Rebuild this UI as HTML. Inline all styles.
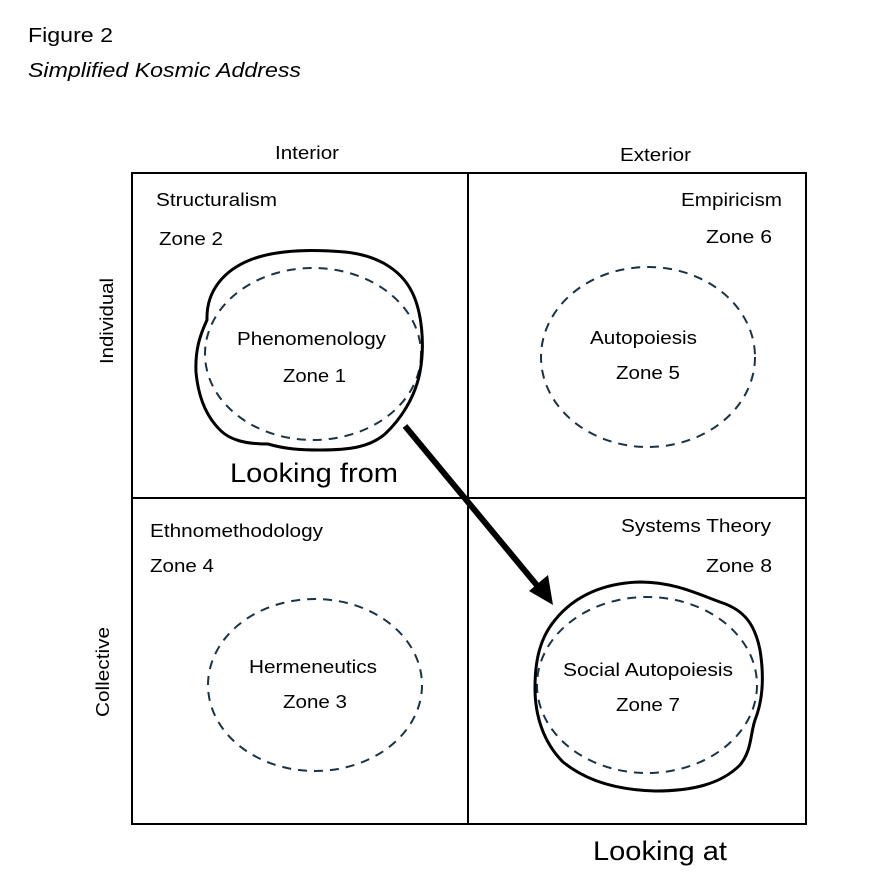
<!DOCTYPE html>
<html><head><meta charset="utf-8"><style>
html,body{margin:0;padding:0;background:#fff;}
svg{display:block;}
text{font-family:"Liberation Sans",Arial,sans-serif;fill:#000;}
</style></head><body>
<svg width="886" height="881" viewBox="0 0 886 881" xmlns="http://www.w3.org/2000/svg">
<text lengthAdjust="spacingAndGlyphs" x="28" y="42" font-size="20" textLength="85">Figure 2</text>
<text lengthAdjust="spacingAndGlyphs" x="28" y="77" font-size="20" font-style="italic" textLength="273">Simplified Kosmic Address</text>
<text lengthAdjust="spacingAndGlyphs" x="275" y="159" font-size="18" textLength="64">Interior</text>
<text lengthAdjust="spacingAndGlyphs" x="620" y="161" font-size="18" textLength="71">Exterior</text>
<text lengthAdjust="spacingAndGlyphs" transform="translate(113,364) rotate(-90)" font-size="18" textLength="86">Individual</text>
<text lengthAdjust="spacingAndGlyphs" transform="translate(109,717) rotate(-90)" font-size="18" textLength="90">Collective</text>

<text lengthAdjust="spacingAndGlyphs" x="156" y="206" font-size="18" textLength="121">Structuralism</text>
<text lengthAdjust="spacingAndGlyphs" x="159" y="245" font-size="18" textLength="64">Zone 2</text>
<text lengthAdjust="spacingAndGlyphs" x="681" y="206" font-size="18" textLength="101">Empiricism</text>
<text lengthAdjust="spacingAndGlyphs" x="706" y="243" font-size="18" textLength="66">Zone 6</text>
<text lengthAdjust="spacingAndGlyphs" x="150" y="537" font-size="18" textLength="173">Ethnomethodology</text>
<text lengthAdjust="spacingAndGlyphs" x="150" y="572" font-size="18" textLength="64">Zone 4</text>
<text lengthAdjust="spacingAndGlyphs" x="621" y="532" font-size="18" textLength="150">Systems Theory</text>
<text lengthAdjust="spacingAndGlyphs" x="706" y="572" font-size="18" textLength="66">Zone 8</text>

<text lengthAdjust="spacingAndGlyphs" x="237" y="345" font-size="18" textLength="149">Phenomenology</text>
<text lengthAdjust="spacingAndGlyphs" x="283" y="382" font-size="18" textLength="63">Zone 1</text>
<text lengthAdjust="spacingAndGlyphs" x="590" y="344" font-size="18" textLength="107">Autopoiesis</text>
<text lengthAdjust="spacingAndGlyphs" x="616" y="379" font-size="18" textLength="64">Zone 5</text>
<text lengthAdjust="spacingAndGlyphs" x="249" y="673" font-size="18" textLength="128">Hermeneutics</text>
<text lengthAdjust="spacingAndGlyphs" x="283" y="708" font-size="18" textLength="64">Zone 3</text>
<text lengthAdjust="spacingAndGlyphs" x="563" y="676" font-size="18" textLength="170">Social Autopoiesis</text>
<text lengthAdjust="spacingAndGlyphs" x="616" y="711" font-size="18" textLength="64">Zone 7</text>

<text lengthAdjust="spacingAndGlyphs" x="230" y="482" font-size="27" textLength="168">Looking from</text>
<text lengthAdjust="spacingAndGlyphs" x="593" y="860" font-size="27" textLength="134">Looking at</text>

<rect x="132" y="173" width="674" height="651" fill="none" stroke="#000" stroke-width="2"/>
<line x1="468" y1="173" x2="468" y2="824" stroke="#000" stroke-width="2"/>
<line x1="132" y1="498" x2="806" y2="498" stroke="#000" stroke-width="2"/>

<g fill="none" stroke="#1a3344" stroke-width="2" stroke-dasharray="9,7">
<ellipse cx="313" cy="354" rx="108" ry="86"/>
<ellipse cx="648" cy="357" rx="107" ry="90"/>
<ellipse cx="315" cy="685" rx="107" ry="86"/>
<ellipse cx="647" cy="685" rx="110" ry="88"/>
</g>

<g fill="none" stroke="#000" stroke-width="3">
<path d="M207,320 C206,290 225,270 250,260 C275,250 310,249 345,252 C375,255 400,268 412,292 C422,312 425,345 420,372 C415,398 400,420 385,434 C370,447 350,450 320,450 C300,450 285,449 268,444 C245,444 230,440 220,430 C205,415 198,395 196,372 C195,350 200,335 207,320 Z"/>
<path d="M555,620 C575,595 605,583 640,582 C675,582 700,595 720,602 C745,610 755,625 760,650 C764,675 763,700 755,720 C750,735 752,750 740,765 C720,785 690,791 655,791 C615,790 585,780 563,762 C543,742 535,715 535,688 C535,660 540,638 555,620 Z"/>
</g>

<line x1="405" y1="426" x2="540" y2="589" stroke="#000" stroke-width="6"/>
<polygon points="553,605 529,591 548,575" fill="#000"/>
</svg>
</body></html>
